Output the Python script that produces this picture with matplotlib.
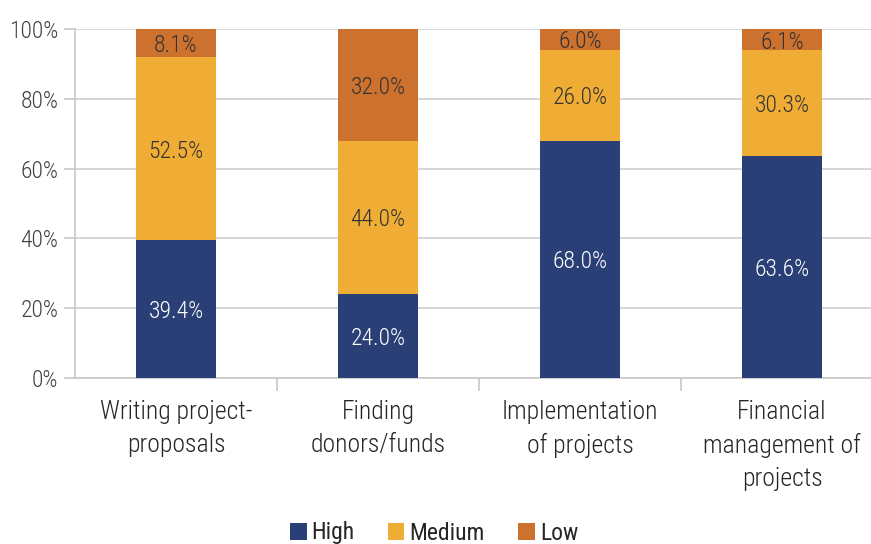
import matplotlib
matplotlib.use("Agg")
import matplotlib.pyplot as plt
from matplotlib.ticker import FixedLocator, NullFormatter

plt.rcParams['font.family'] = ['Roboto Condensed', 'Open Sans Condensed', 'Roboto', 'DejaVu Sans']
plt.rcParams['font.weight'] = 300

categories = ["Writing project-\nproposals", "Finding\ndonors/funds",
              "Implementation\nof projects", "Financial\nmanagement of\nprojects"]
high = [39.4, 24.0, 68.0, 63.6]
medium = [52.5, 44.0, 26.0, 30.3]
low = [8.1, 32.0, 6.0, 6.1]
series_names = ["High", "Medium", "Low"]
colors = ["#293F75", "#F0AD35", "#CD712E"]
label_colors = ["white", "#333333", "#333333"]
yticks = [0, 20, 40, 60, 80, 100]

fig = plt.figure(figsize=(8.71, 5.44), dpi=100)
ax = fig.add_axes([75 / 871, 1 - 378 / 544, 808 / 871, 349 / 544])

x = list(range(len(categories)))
bottoms = [0.0] * len(categories)
for vals, name, col, lc in zip([high, medium, low], series_names, colors, label_colors):
    bars = ax.bar(x, vals, width=0.4, bottom=bottoms, color=col, label=name, zorder=3)
    for b, v, btm in zip(bars, vals, bottoms):
        ax.text(b.get_x() + b.get_width() / 2, btm + v / 2, f"{v:.1f}%",
                ha="center", va="center_baseline", color=lc, fontsize=17, zorder=4)
    bottoms = [bo + v for bo, v in zip(bottoms, vals)]

ax.set_xlim(-0.5, len(categories) - 0.5)
ax.set_ylim(0, 100)
ax.set_yticks(yticks)
ax.set_yticklabels([f"{t}%" for t in yticks], fontsize=17, color="#404040")
ax.grid(axis="y", color="#D0D0D0", linewidth=1.2, zorder=0)

ax.set_xticks(x)
ax.set_xticklabels(categories, fontsize=18.5, color="#262626", linespacing=1.45)
ax.tick_params(axis="x", length=0, pad=16)
ax.xaxis.set_minor_locator(FixedLocator([0.5, 1.5, 2.5]))
ax.xaxis.set_minor_formatter(NullFormatter())
ax.tick_params(axis="x", which="minor", length=9, color="#C8C8C8", width=1.2)
ax.tick_params(axis="y", length=8, color="#C8C8C8", width=1.2, pad=4)

for s in ["top", "right"]:
    ax.spines[s].set_visible(False)
for s in ["left", "bottom"]:
    ax.spines[s].set_color("#C8C8C8")
    ax.spines[s].set_linewidth(1.2)

leg = fig.legend(loc="center", bbox_to_anchor=(434 / 871, 1 - 533 / 544), ncol=3, frameon=False,
                 prop={"size": 17, "weight": 400}, handlelength=0.7, handleheight=0.7,
                 columnspacing=1.4, handletextpad=0.22)
for t in leg.get_texts():
    t.set_color("#262626")

fig.savefig("out.png", dpi=100)
